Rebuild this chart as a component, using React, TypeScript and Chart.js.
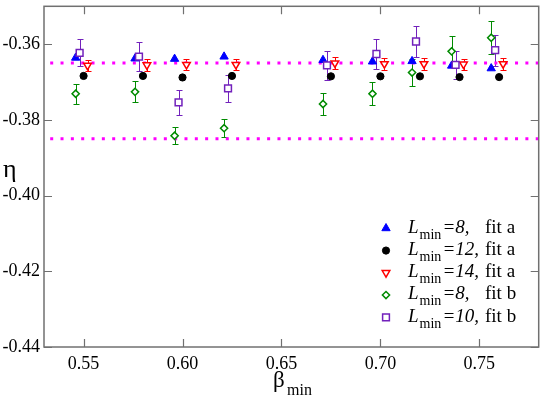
import React, { useEffect, useRef } from 'react';
import { Chart, registerables } from 'chart.js';

Chart.register(...registerables);

// ---- data ----
const xTicks = [0.55, 0.6, 0.65, 0.7, 0.75];
const yTicks = [-0.44, -0.42, -0.4, -0.38, -0.36];
const refLines = [-0.365, -0.385];

// L_min=8, fit a
const xL8a = [0.546, 0.576, 0.596, 0.621, 0.671, 0.696, 0.716, 0.736, 0.756];
const yL8a = [-0.3636, -0.3638, -0.3639, -0.3633, -0.3642, -0.3646, -0.3645, -0.3657, -0.3664];
// L_min=12, fit a
const xL12a = [0.55, 0.58, 0.6, 0.625, 0.675, 0.7, 0.72, 0.74, 0.76];
const yL12a = [-0.3684, -0.3684, -0.3688, -0.3684, -0.3685, -0.3685, -0.3685, -0.3687, -0.3687];
// L_min=14, fit a
const xL14a = [0.552, 0.582, 0.602, 0.627, 0.677, 0.702, 0.722, 0.742, 0.762];
const yL14a = [-0.3656, -0.3655, -0.3654, -0.3654, -0.365, -0.3652, -0.3652, -0.3653, -0.3652];
const eL14a = [0.0015, 0.0015, 0.0015, 0.0015, 0.0015, 0.0015, 0.0015, 0.0015, 0.0015];
// L_min=8, fit b
const xL8b = [0.546, 0.576, 0.596, 0.621, 0.671, 0.696, 0.716, 0.736, 0.756];
const yL8b = [-0.3731, -0.3726, -0.3842, -0.3822, -0.3758, -0.3731, -0.3675, -0.3619, -0.3583];
const eL8b = [0.0026, 0.0028, 0.0022, 0.0024, 0.003, 0.003, 0.0036, 0.004, 0.0043];
// L_min=10, fit b
const xL10b = [0.548, 0.578, 0.598, 0.623, 0.673, 0.698, 0.718, 0.738, 0.758];
const yL10b = [-0.3623, -0.3633, -0.3754, -0.3717, -0.3656, -0.3626, -0.3593, -0.3655, -0.3616];
const eL10b = [0.0036, 0.0038, 0.0032, 0.0035, 0.0038, 0.004, 0.004, 0.0038, 0.0041];

const legendL = ['8', '12', '14', '8', '10'];
const legendFit = ['a', 'a', 'a', 'b', 'b'];

const FONT = "'Liberation Serif', 'Times New Roman', serif";
const BLUE = '#0000ff';
const BLACK = '#000000';
const RED = '#ff0000';
const GREEN = 'rgb(0,139,0)';
const PURPLE = 'rgb(114,33,188)';
const MAGENTA = '#ff00ff';
const AXIS = '#707070';

Chart.defaults.font.family = FONT;

const pts = (xs: number[], ys: number[]) => xs.map((x, i) => ({ x, y: ys[i] }));

function drawMarker(ctx: CanvasRenderingContext2D, style: string, x: number, y: number, r: number,
  fill: string, stroke: string, lw: number, rot: number) {
  ctx.save();
  ctx.beginPath();
  if (style === 'circle') {
    ctx.arc(x, y, r, 0, Math.PI * 2);
  } else if (style === 'triangle') {
    let rad = (rot * Math.PI) / 180;
    for (let k = 0; k < 3; k++) {
      const px = x + Math.sin(rad) * r;
      const py = y - Math.cos(rad) * r;
      if (k === 0) ctx.moveTo(px, py); else ctx.lineTo(px, py);
      rad += (2 * Math.PI) / 3;
    }
    ctx.closePath();
  } else if (style === 'rect') {
    const s = Math.SQRT1_2 * r;
    ctx.rect(x - s, y - s, 2 * s, 2 * s);
  } else if (style === 'rectRot') {
    ctx.moveTo(x, y - r);
    ctx.lineTo(x + r, y);
    ctx.lineTo(x, y + r);
    ctx.lineTo(x - r, y);
    ctx.closePath();
  }
  ctx.fillStyle = fill;
  ctx.fill();
  ctx.lineWidth = lw;
  ctx.strokeStyle = stroke;
  ctx.stroke();
  ctx.restore();
}

const decor = {
  id: 'decor',
  beforeDatasetsDraw(chart: any) {
    const { ctx } = chart;
    const xs = chart.scales.x;
    const ys = chart.scales.y;
    chart.data.datasets.forEach((ds: any) => {
      const errs: number[] | undefined = ds.errorBars;
      if (!errs) return;
      ctx.save();
      ctx.strokeStyle = ds.borderColor;
      ctx.lineWidth = 1;
      ds.data.forEach((p: any, j: number) => {
        const px = Math.round(xs.getPixelForValue(p.x)) + 0.5;
        const y1 = Math.round(ys.getPixelForValue(p.y + errs[j])) + 0.5;
        const y2 = Math.round(ys.getPixelForValue(p.y - errs[j])) + 0.5;
        ctx.beginPath();
        ctx.moveTo(px, y1);
        ctx.lineTo(px, y2);
        ctx.moveTo(px - 3, y1);
        ctx.lineTo(px + 3, y1);
        ctx.moveTo(px - 3, y2);
        ctx.lineTo(px + 3, y2);
        ctx.stroke();
      });
      ctx.restore();
    });
  },
  afterDraw(chart: any) {
    const { ctx, chartArea } = chart;
    const xs = chart.scales.x;
    const ys = chart.scales.y;
    const { left, right, top, bottom } = chartArea;
    ctx.save();
    // frame
    ctx.strokeStyle = AXIS;
    ctx.lineWidth = 1.5;
    ctx.strokeRect(left, top, right - left, bottom - top);
    // inner ticks
    ctx.beginPath();
    xTicks.forEach((v) => {
      const px = Math.round(xs.getPixelForValue(v)) + 0.5;
      ctx.moveTo(px, bottom);
      ctx.lineTo(px, bottom - 8);
      ctx.moveTo(px, top);
      ctx.lineTo(px, top + 8);
    });
    yTicks.forEach((v) => {
      const py = Math.round(ys.getPixelForValue(v)) + 0.5;
      ctx.moveTo(left, py);
      ctx.lineTo(left + 8, py);
      ctx.moveTo(right, py);
      ctx.lineTo(right - 8, py);
    });
    ctx.lineWidth = 1.2;
    ctx.stroke();

    // axis titles
    ctx.fillStyle = '#000';
    ctx.textBaseline = 'alphabetic';
    ctx.textAlign = 'left';
    ctx.font = `26px ${FONT}`;
    ctx.fillText('η', 3, 177);
    ctx.font = `23px ${FONT}`;
    ctx.fillText('β', 273, 387);
    ctx.font = `16px ${FONT}`;
    ctx.fillText('min', 287, 395);

    // legend
    const styles = [
      { s: 'triangle', r: 4.8, f: BLUE, c: BLUE, lw: 1, rot: 0 },
      { s: 'circle', r: 3.6, f: BLACK, c: BLACK, lw: 1, rot: 0 },
      { s: 'triangle', r: 4.4, f: '#fff', c: RED, lw: 1.5, rot: 180 },
      { s: 'rectRot', r: 3.6, f: '#fff', c: GREEN, lw: 1.5, rot: 0 },
      { s: 'rect', r: 4.8, f: '#fff', c: PURPLE, lw: 1.5, rot: 0 },
    ];
    legendL.forEach((L, i) => {
      const base = 232.7 + i * 22.25;
      const st = styles[i];
      drawMarker(ctx, st.s, 386, base - 4.4, st.r, st.f, st.c, st.lw, st.rot);
      ctx.fillStyle = '#000';
      ctx.font = `italic 19px ${FONT}`;
      ctx.fillText('L', 408, base);
      ctx.font = `14px ${FONT}`;
      ctx.fillText('min', 419.5, base + 6);
      ctx.font = `italic 19px ${FONT}`;
      ctx.fillText('=' + L + ',', 442.5, base);
      ctx.font = `19px ${FONT}`;
      ctx.fillText('fit ' + legendFit[i], 485, base);
    });
    ctx.restore();
  },
};

export default function App() {
  const ref = useRef<HTMLCanvasElement | null>(null);
  useEffect(() => {
    document.body.style.margin = '0';
    if (!ref.current) return;
    const refDatasets = refLines.map((v, i) => ({
      label: 'ref' + i,
      type: 'line' as const,
      data: [{ x: 0.53, y: v }, { x: 0.78, y: v }],
      showLine: true,
      borderColor: MAGENTA,
      borderWidth: 3,
      borderDash: [3, 7.33],
      borderDashOffset: 4.13,
      pointRadius: 0,
      order: 10,
    }));
    const chart = new Chart(ref.current, {
      type: 'scatter',
      data: {
        datasets: [
          ...refDatasets,
          {
            label: 'L8a', data: pts(xL8a, yL8a), pointStyle: 'triangle', pointRadius: 4.8,
            backgroundColor: BLUE, borderColor: BLUE, borderWidth: 1, order: 5,
          },
          {
            label: 'L12a', data: pts(xL12a, yL12a), pointStyle: 'circle', pointRadius: 3.6,
            backgroundColor: BLACK, borderColor: BLACK, borderWidth: 1, order: 4,
          },
          {
            label: 'L14a', data: pts(xL14a, yL14a), pointStyle: 'triangle', pointRotation: 180, pointRadius: 4.4,
            backgroundColor: '#fff', borderColor: RED, borderWidth: 1.5, order: 3, errorBars: eL14a,
          } as any,
          {
            label: 'L8b', data: pts(xL8b, yL8b), pointStyle: 'rectRot', pointRadius: 3.6,
            backgroundColor: '#fff', borderColor: GREEN, borderWidth: 1.5, order: 2, errorBars: eL8b,
          } as any,
          {
            label: 'L10b', data: pts(xL10b, yL10b), pointStyle: 'rect', pointRadius: 4.8,
            backgroundColor: '#fff', borderColor: PURPLE, borderWidth: 1.5, order: 1, errorBars: eL10b,
          } as any,
        ],
      },
      options: {
        animation: false,
        responsive: false,
        events: [],
        layout: { padding: { top: 2, right: 3, left: 0, bottom: 0 } },
        plugins: { legend: { display: false }, tooltip: { enabled: false } },
        scales: {
          x: {
            type: 'linear',
            min: 0.53,
            max: 0.78,
            afterBuildTicks: (s: any) => { s.ticks = xTicks.map((v) => ({ value: v })); },
            afterFit: (s: any) => { s.height = 51; s.paddingLeft = 0; s.paddingRight = 0; },
            grid: { display: false, drawTicks: false },
            border: { display: false },
            ticks: {
              padding: 6,
              color: '#000',
              font: { family: FONT, size: 18 },
              callback: (v: any) => Number(v).toFixed(2),
              maxRotation: 0,
            },
          },
          y: {
            type: 'linear',
            min: -0.44,
            max: -0.35,
            afterBuildTicks: (s: any) => { s.ticks = yTicks.map((v) => ({ value: v })); },
            afterFit: (s: any) => { s.width = 44; s.paddingTop = 0; s.paddingBottom = 0; },
            grid: { display: false, drawTicks: false },
            border: { display: false },
            ticks: {
              padding: 4,
              color: '#000',
              font: { family: FONT, size: 18 },
              callback: (v: any) => Number(v).toFixed(2),
            },
          },
        },
      },
      plugins: [decor],
    } as any);
    return () => chart.destroy();
  }, []);
  return <canvas ref={ref} width={545} height={398} style={{ display: 'block', width: 545, height: 398 }} />;
}
